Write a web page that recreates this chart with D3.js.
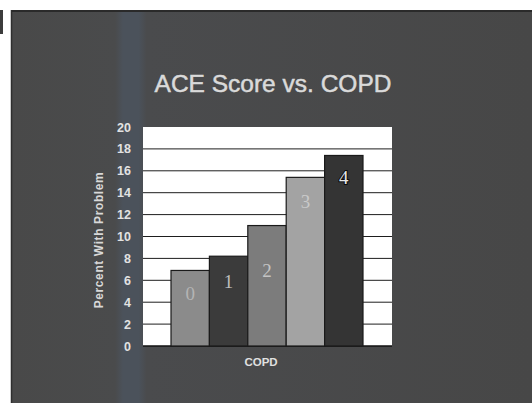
<!DOCTYPE html>
<html>
<head>
<meta charset="utf-8">
<script src="https://cdn.jsdelivr.net/npm/d3@7"></script>
<style>
  body { margin: 0; background: #fff; }
  svg { display: block; }
</style>
</head>
<body>
<svg id="svg"></svg>
<script>
// data
var categories = ["0", "1", "2", "3", "4"];
var values = [6.9, 8.2, 11.0, 15.4, 17.4];
var yTicks = [0, 2, 4, 6, 8, 10, 12, 14, 16, 18, 20];
var barColors = ["#8b8b8b", "#3b3b3b", "#7c7c7c", "#a3a3a3", "#343434"];
var labelColors = ["#b4b4b4", "#bdbdbd", "#c4c4c4", "#c9c9c9", "#e8e8e8"];

var W = 532, H = 403;
var plot = { left: 143, right: 392, top: 127, bottom: 346 };

var svg = d3.select("#svg").attr("width", W).attr("height", H);

// slide background (photo of a projected slide)
var defs = svg.append("defs");
var grad = defs.append("linearGradient").attr("id", "bg").attr("x1", 0).attr("x2", 1).attr("y1", 0).attr("y2", 0);
grad.append("stop").attr("offset", "0%").attr("stop-color", "#494949");
grad.append("stop").attr("offset", "20%").attr("stop-color", "#4a4b4c");
grad.append("stop").attr("offset", "21.5%").attr("stop-color", "#4b525b");
grad.append("stop").attr("offset", "24.5%").attr("stop-color", "#4b525b");
grad.append("stop").attr("offset", "26%").attr("stop-color", "#4a4b4d");
grad.append("stop").attr("offset", "100%").attr("stop-color", "#474747");

svg.append("rect").attr("x", 0).attr("y", 10).attr("width", 3).attr("height", 24).attr("fill", "#3c3c3c");
svg.append("rect").attr("x", 11).attr("y", 10).attr("width", W - 11).attr("height", H - 10).attr("fill", "url(#bg)");
svg.append("line").attr("x1", 11).attr("x2", W).attr("y1", 11).attr("y2", 11).attr("stroke", "#2a2a2a").attr("stroke-width", 2);
svg.append("line").attr("x1", 11.5).attr("x2", 11.5).attr("y1", 10).attr("y2", H).attr("stroke", "#2f2f2f").attr("stroke-width", 1.5);

// title
svg.append("text")
  .attr("x", 273).attr("y", 92)
  .attr("text-anchor", "middle")
  .attr("font-family", "Liberation Sans, Arial, sans-serif")
  .attr("font-size", 24.5)
  .attr("fill", "#dadada")
  .attr("stroke", "#dadada")
  .attr("stroke-width", 0.5)
  .text("ACE Score vs. COPD");

var xScale = d3.scaleBand().domain(categories).range([171, 363]).paddingInner(0).paddingOuter(0);
var yScale = d3.scaleLinear().domain([0, 20]).range([plot.bottom, plot.top]);

// plot area
svg.append("rect")
  .attr("x", plot.left).attr("y", plot.top)
  .attr("width", plot.right - plot.left).attr("height", plot.bottom - plot.top)
  .attr("fill", "#ffffff");

// gridlines
var grid = svg.append("g");
grid.selectAll("line")
  .data(yTicks.filter(d => d > 0 && d < 20))
  .join("line")
  .attr("x1", plot.left).attr("x2", plot.right)
  .attr("y1", d => yScale(d)).attr("y2", d => yScale(d))
  .attr("stroke", "#1e1e1e").attr("stroke-width", 1);

svg.append("line")
  .attr("x1", plot.left).attr("x2", plot.right)
  .attr("y1", plot.bottom).attr("y2", plot.bottom)
  .attr("stroke", "#111").attr("stroke-width", 1.5);

// bars
var bars = svg.append("g");
bars.selectAll("rect")
  .data(values)
  .join("rect")
  .attr("x", (d, i) => xScale(categories[i]))
  .attr("y", d => yScale(d))
  .attr("width", xScale.bandwidth())
  .attr("height", d => plot.bottom - yScale(d))
  .attr("fill", (d, i) => barColors[i])
  .attr("stroke", "#1a1a1a")
  .attr("stroke-width", 1.2);

// category labels inside bars
var labelY = [300, 288, 277, 208, 184];
bars.selectAll("text")
  .data(categories)
  .join("text")
  .attr("x", d => xScale(d) + xScale.bandwidth() / 2)
  .attr("y", (d, i) => labelY[i])
  .attr("text-anchor", "middle")
  .attr("font-family", "Liberation Serif, Times New Roman, serif")
  .attr("font-size", 19)
  .attr("fill", (d, i) => labelColors[i])
  .attr("stroke", (d, i) => i === 4 ? "#0d0d0d" : "none")
  .attr("stroke-width", 2)
  .attr("paint-order", "stroke")
  .text(d => d);

// y axis
var yAxis = svg.append("g")
  .attr("transform", `translate(${plot.left}, 0)`)
  .call(d3.axisLeft(yScale).tickValues(yTicks).tickSize(0).tickPadding(12));
yAxis.select(".domain").remove();
yAxis.selectAll("text")
  .attr("font-family", "Liberation Sans, Arial, sans-serif")
  .attr("font-size", 12.5)
  .attr("font-weight", "bold")
  .attr("fill", "#e2e2e2");

// axis titles
svg.append("text")
  .attr("transform", "translate(103, 240) rotate(-90)")
  .attr("text-anchor", "middle")
  .attr("font-family", "Liberation Sans, Arial, sans-serif")
  .attr("font-size", 12)
  .attr("font-weight", "bold")
  .attr("letter-spacing", 0.6)
  .attr("fill", "#d8d8d8")
  .text("Percent With Problem");

svg.append("text")
  .attr("x", 261).attr("y", 366)
  .attr("text-anchor", "middle")
  .attr("font-family", "Liberation Sans, Arial, sans-serif")
  .attr("font-size", 11.5)
  .attr("font-weight", "bold")
  .attr("fill", "#e0e0e0")
  .text("COPD");
</script>
</body>
</html>
